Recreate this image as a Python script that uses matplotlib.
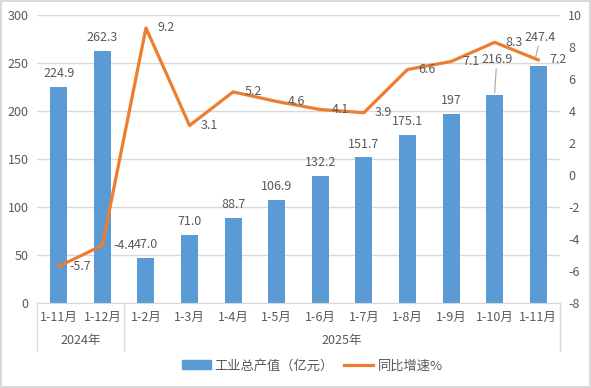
import matplotlib.pyplot as plt
import matplotlib.transforms as mtransforms
import numpy as np

plt.rcParams['font.family'] = ['Noto Sans CJK SC', 'DejaVu Sans']
plt.rcParams['axes.unicode_minus'] = False

months = ['1-11月', '1-12月', '1-2月', '1-3月', '1-4月', '1-5月', '1-6月',
          '1-7月', '1-8月', '1-9月', '1-10月', '1-11月']
years = ['2024年', '2025年']
year_spans = [(0, 1), (2, 11)]
output = [224.9, 262.3, 47.0, 71.0, 88.7, 106.9, 132.2, 151.7, 175.1, 197, 216.9, 247.4]
output_labels = ['224.9', '262.3', '47.0', '71.0', '88.7', '106.9', '132.2',
                 '151.7', '175.1', '197', '216.9', '247.4']
growth = [-5.7, -4.4, 9.2, 3.1, 5.2, 4.6, 4.1, 3.9, 6.6, 7.1, 8.3, 7.2]

blue = '#5B9BD5'
orange = '#ED7D31'
txt = '#595959'
grid = '#D9D9D9'

fig = plt.figure(figsize=(5.91, 3.88), dpi=100, edgecolor=grid, linewidth=1.5)
ax = fig.add_axes([0.0626, 0.219, 0.885, 0.742])
ax2 = ax.twinx()

x = np.arange(len(months))
ax.bar(x, output, width=0.39, color=blue, zorder=2)
ax.set_xlim(-0.5, len(months) - 0.5)
ax.set_ylim(0, 300)
ax.set_yticks(np.arange(0, 301, 50))
ax.yaxis.grid(True, color=grid, linewidth=1)
ax.set_axisbelow(True)

ax2.plot(x, growth, color=orange, linewidth=2.3, zorder=3)
ax2.set_ylim(-8, 10)
ax2.set_yticks(np.arange(-8, 11, 2))

for a in (ax, ax2):
    for s in ('top', 'left', 'right'):
        a.spines[s].set_visible(False)
    a.spines['bottom'].set_color(grid)
    a.tick_params(length=0, labelsize=9, colors=txt)
ax2.spines['bottom'].set_visible(False)
ax.tick_params(axis='y', pad=6)
ax2.tick_params(axis='y', pad=6)

ax.set_xticks(x)
ax.set_xticklabels(months, fontsize=9, color=txt)
ax.tick_params(axis='x', pad=6)

# bar labels
for i, (v, lab) in enumerate(zip(output, output_labels)):
    if i == 10:
        ax.annotate(lab, xy=(i, v + 2), xytext=(i + 0.05, v + 30), ha='center',
                    va='bottom', fontsize=9, color=txt,
                    arrowprops=dict(arrowstyle='-', color='#A6A6A6', lw=0.8,
                                    shrinkA=0, shrinkB=0))
    elif i == 11:
        ax.annotate(lab, xy=(i - 0.1, v + 1), xytext=(i + 0.05, v + 23), ha='center',
                    va='bottom', fontsize=9, color=txt,
                    arrowprops=dict(arrowstyle='-', color='#A6A6A6', lw=0.8,
                                    shrinkA=0, shrinkB=4))
    else:
        ax.annotate(lab, xy=(i, v), xytext=(0, 5), textcoords='offset points',
                    ha='center', va='bottom', fontsize=9, color=txt)

# line labels
for i, g in enumerate(growth):
    ax2.annotate(f'{g:.1f}', xy=(i, g), xytext=(8, 0), textcoords='offset points',
                 ha='left', va='center', fontsize=9, color=txt, zorder=4)

# year group axis
trans = mtransforms.blended_transform_factory(ax.transData, ax.transAxes)
for b in (-0.5, 1.5, len(months) - 0.5):
    ax.plot([b, b], [0, -0.165], transform=trans, color=grid, linewidth=1,
            clip_on=False)
for yr, (a, b) in zip(years, year_spans):
    ax.text((a + b) / 2, -0.13, yr, transform=trans, ha='center', va='center',
            fontsize=9, color=txt)

# legend
h1 = plt.Rectangle((0, 0), 1, 1, color=blue)
h2 = plt.Line2D([0], [0], color=orange, linewidth=2.3)
fig.legend([h1, h2], ['工业总产值（亿元）', '同比增速%'], loc='center',
           bbox_to_anchor=(0.528, 0.057), ncol=2, frameon=False, fontsize=9.5,
           labelcolor=txt, handlelength=2.2, columnspacing=0.8, handletextpad=0.3)

fig.savefig('out.png', dpi=100, edgecolor=fig.get_edgecolor())
